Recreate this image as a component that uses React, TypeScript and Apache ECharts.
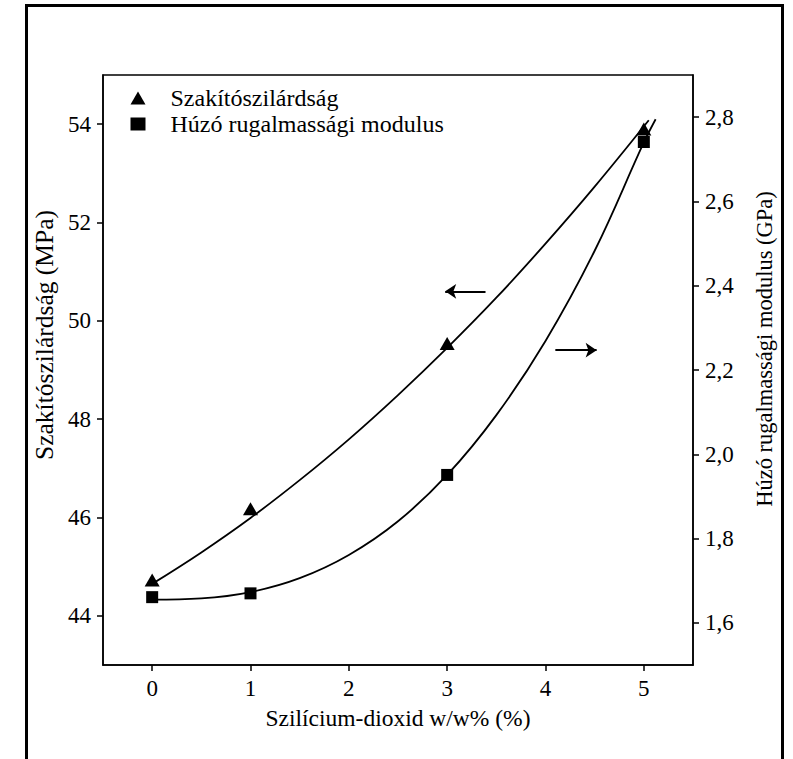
import React, { useEffect, useRef } from "react";
import * as echarts from "echarts";

const xTicks = [0, 1, 2, 3, 4, 5];
const leftTicks = [44, 46, 48, 50, 52, 54];
const rightTicks = [1.6, 1.8, 2.0, 2.2, 2.4, 2.6, 2.8];

const silicaContent = [0, 1, 3, 5];
const tensileStrength = [44.73, 46.18, 49.54, 53.9];
const tensileModulus = [1.661, 1.67, 1.951, 2.741];

const strengthFitX = [0, 0.5, 1, 1.5, 2, 2.5, 3, 3.5, 4, 4.5, 5.05];
const strengthFitY = [44.65, 45.29, 45.99, 46.76, 47.59, 48.49, 49.45, 50.47, 51.57, 52.73, 54.08];
const modulusFitX = [0, 0.5, 1, 1.5, 2, 2.5, 3, 3.5, 4, 4.5, 5, 5.12];
const modulusFitY = [1.655, 1.658, 1.673, 1.706, 1.761, 1.841, 1.951, 2.093, 2.269, 2.483, 2.74, 2.795];

// annotation arrows (data coordinates)
const leftArrow = [[3.39, 50.6], [2.98, 50.6]];
const rightArrow = [[4.1, 2.247], [4.52, 2.247]];

const nameStrength = "Szakítószilárdság";
const nameModulus = "Húzó rugalmassági modulus";
const xTitle = "Szilícium-dioxid w/w% (%)";
const leftTitle = "Szakítószilárdság (MPa)";
const rightTitle = "Húzó rugalmassági modulus (GPa)";

const FONT = "'Liberation Serif', 'Times New Roman', serif";

export default function App() {
  const ref = useRef<HTMLDivElement>(null);
  useEffect(() => {
    if (!ref.current) return;
    const chart = echarts.init(ref.current, undefined, { renderer: "svg" });
    const axisLine = { show: true, onZero: false, lineStyle: { color: "#000", width: 1.5 } };
    const tick = { show: true, inside: false, length: 6, lineStyle: { color: "#000", width: 1.5 } };
    const label = { fontFamily: FONT, fontSize: 23, color: "#000", margin: 12 };
    chart.setOption({
      animation: false,
      backgroundColor: "#fff",
      textStyle: { fontFamily: FONT },
      grid: {
        left: 103,
        right: 100,
        top: 75,
        bottom: 94,
        show: true,
        borderColor: "#000",
        borderWidth: 1.5,
        backgroundColor: "transparent",
      },
      legend: {
        orient: "vertical",
        left: 130.5,
        top: 86,
        padding: 0,
        itemWidth: 15,
        itemHeight: 13,
        itemGap: 2,
        data: [nameStrength, nameModulus],
        itemStyle: { opacity: 1 },
        textStyle: { fontFamily: FONT, fontSize: 24, color: "#000", lineHeight: 24, padding: [0, 0, 0, 20] },
      },
      xAxis: {
        type: "value",
        min: -0.5,
        max: 5.5,
        name: xTitle,
        nameLocation: "middle",
        nameGap: 41,
        nameTextStyle: { fontFamily: FONT, fontSize: 23.5, color: "#000" },
        axisLine,
        splitLine: { show: false },
        axisTick: { ...tick, customValues: xTicks },
        axisLabel: { ...label, customValues: xTicks },
      },
      yAxis: [
        {
          type: "value",
          position: "left",
          min: 43,
          max: 55,
          name: leftTitle,
          nameLocation: "middle",
          nameGap: 46,
          nameTextStyle: { fontFamily: FONT, fontSize: 25.5, color: "#000", padding: [0, 0, 0, 70] },
          axisLine,
          splitLine: { show: false },
          axisTick: { ...tick, customValues: leftTicks },
          axisLabel: { ...label, customValues: leftTicks },
        },
        {
          type: "value",
          position: "right",
          min: 1.5,
          max: 2.9,
          name: rightTitle,
          nameLocation: "middle",
          nameGap: 60,
          nameRotate: 90,
          nameTextStyle: { fontFamily: FONT, fontSize: 22.5, color: "#000", padding: [0, 0, 0, 42] },
          axisLine,
          splitLine: { show: false },
          axisTick: { ...tick, customValues: rightTicks },
          axisLabel: {
            ...label,
            customValues: rightTicks,
            formatter: (v: number) => v.toFixed(1).replace(".", ","),
          },
        },
      ],
      graphic: [
        {
          type: "rect",
          silent: true,
          shape: { x: 26.5, y: 5.5, width: 756, height: 800 },
          style: { fill: "none", stroke: "#000", lineWidth: 3 },
        },
      ],
      series: [
        {
          type: "line",
          name: "fit-strength",
          yAxisIndex: 0,
          data: strengthFitX.map((x, i) => [x, strengthFitY[i]]),
          smooth: 0.4,
          showSymbol: false,
          lineStyle: { color: "#000", width: 1.8 },
          silent: true,
          z: 2,
          markLine: {
            silent: true,
            symbol: ["none", "arrow"],
            symbolSize: 11,
            label: { show: false },
            lineStyle: { color: "#000", width: 2, type: "solid" },
            data: [[{ coord: leftArrow[0] }, { coord: leftArrow[1] }]],
          },
        },
        {
          type: "line",
          name: "fit-modulus",
          yAxisIndex: 1,
          data: modulusFitX.map((x, i) => [x, modulusFitY[i]]),
          smooth: 0.4,
          showSymbol: false,
          lineStyle: { color: "#000", width: 1.8 },
          silent: true,
          z: 2,
          markLine: {
            silent: true,
            symbol: ["none", "arrow"],
            symbolSize: 11,
            label: { show: false },
            lineStyle: { color: "#000", width: 2, type: "solid" },
            data: [[{ coord: rightArrow[0] }, { coord: rightArrow[1] }]],
          },
        },
        {
          type: "scatter",
          name: nameStrength,
          yAxisIndex: 0,
          symbol: "triangle",
          symbolSize: [15, 13],
          itemStyle: { color: "#000", opacity: 1 },
          data: silicaContent.map((x, i) => [x, tensileStrength[i]]),
          z: 3,
        },
        {
          type: "scatter",
          name: nameModulus,
          yAxisIndex: 1,
          symbol: "rect",
          symbolSize: 12,
          itemStyle: { color: "#000", opacity: 1 },
          data: silicaContent.map((x, i) => [x, tensileModulus[i]]),
          z: 4,
        },
      ],
    });
    return () => chart.dispose();
  }, []);
  return (
    <div
      ref={ref}
      style={{ position: "fixed", left: 0, top: 0, width: 793, height: 759, background: "#fff" }}
    />
  );
}
